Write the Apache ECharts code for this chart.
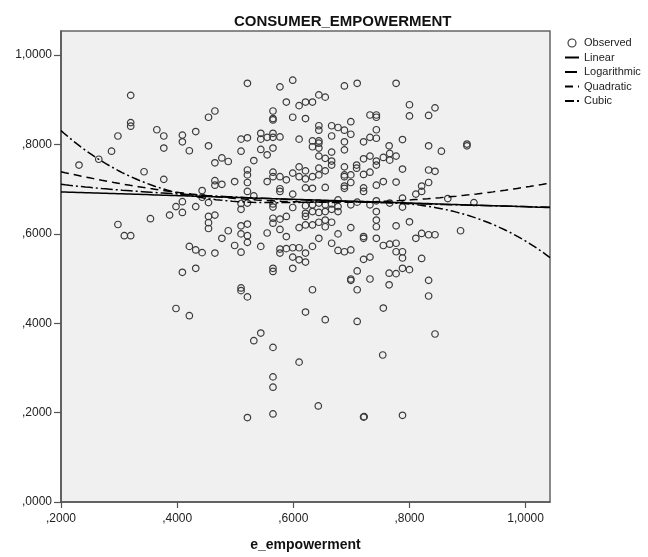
<!DOCTYPE html>
<html><head><meta charset="utf-8">
<script src="https://cdn.jsdelivr.net/npm/echarts@6/dist/echarts.min.js"></script>
<style>html,body{margin:0;padding:0;background:#fff}#c{width:648px;height:557px}</style>
</head><body><div id="c"></div>
<script>
// Observed points (e_empowerment, CONSUMER_EMPOWERMENT)
const obsX = [0.320,0.320,0.320,0.298,0.287,0.265,0.231,0.343,0.365,0.377,0.377,0.377,0.409,0.409,0.421,0.432,0.454,0.465,0.454,0.465,
0.477,0.488,0.465,0.465,0.477,0.443,0.443,0.454,0.409,0.398,0.432,0.409,0.387,0.354,0.298,0.309,0.320,0.454,0.454,0.454,
0.465,0.488,0.477,0.421,0.432,0.443,0.465,0.409,0.432,0.398,0.421,0.521,0.577,0.599,0.688,0.710,0.588,0.610,0.621,0.633,
0.644,0.655,0.565,0.565,0.565,0.599,0.621,0.644,0.644,0.666,0.677,0.688,0.699,0.699,0.666,0.732,0.743,0.743,0.743,0.732,
0.743,0.721,0.544,0.544,0.555,0.565,0.565,0.577,0.510,0.521,0.610,0.633,0.633,0.644,0.644,0.644,0.688,0.688,0.510,0.544,
0.555,0.565,0.644,0.666,0.655,0.666,0.666,0.532,0.721,0.732,0.743,0.743,0.755,0.765,0.709,0.709,0.688,0.688,0.688,0.521,
0.521,0.521,0.565,0.565,0.610,0.610,0.621,0.621,0.633,0.644,0.644,0.655,0.599,0.577,0.588,0.555,0.499,0.699,0.699,0.721,
0.732,0.743,0.755,0.577,0.577,0.621,0.633,0.655,0.688,0.688,0.721,0.721,0.521,0.532,0.599,0.510,0.510,0.521,0.565,0.565,
0.599,0.621,0.621,0.621,0.633,0.633,0.644,0.644,0.655,0.655,0.666,0.666,0.677,0.677,0.677,0.699,0.710,0.732,0.743,0.743,
0.766,0.788,0.788,0.588,0.577,0.565,0.565,0.521,0.510,0.510,0.521,0.521,0.499,0.510,0.544,0.555,0.577,0.588,0.610,0.633,
0.644,0.655,0.655,0.666,0.621,0.677,0.699,0.644,0.666,0.633,0.677,0.688,0.699,0.577,0.577,0.588,0.599,0.610,0.621,0.599,
0.610,0.621,0.565,0.565,0.599,0.721,0.721,0.743,0.743,0.743,0.755,0.732,0.721,0.710,0.699,0.699,0.732,0.710,0.765,0.765,
0.755,0.510,0.510,0.521,0.633,0.621,0.655,0.710,0.544,0.532,0.565,0.610,0.754,0.565,0.565,0.643,0.521,0.565,0.721,0.722,
0.788,0.777,0.800,0.800,0.844,0.833,0.788,0.766,0.766,0.777,0.833,0.855,0.899,0.899,0.788,0.833,0.844,0.777,0.833,0.821,
0.821,0.811,0.866,0.911,0.777,0.800,0.821,0.833,0.844,0.811,0.888,0.766,0.777,0.777,0.788,0.788,0.821,0.788,0.800,0.777,
0.833,0.833,0.844];
const obsY = [0.910,0.849,0.841,0.819,0.785,0.767,0.754,0.739,0.833,0.819,0.792,0.722,0.821,0.806,0.786,0.829,0.861,0.875,0.797,0.759,
0.770,0.762,0.719,0.709,0.711,0.697,0.682,0.670,0.672,0.661,0.661,0.648,0.642,0.634,0.621,0.596,0.596,0.639,0.625,0.612,
0.642,0.607,0.590,0.572,0.564,0.558,0.557,0.514,0.523,0.433,0.417,0.937,0.929,0.944,0.931,0.937,0.895,0.887,0.895,0.895,
0.911,0.906,0.875,0.858,0.855,0.861,0.858,0.842,0.832,0.842,0.838,0.832,0.851,0.823,0.819,0.866,0.866,0.861,0.833,0.816,
0.814,0.806,0.825,0.812,0.816,0.825,0.816,0.817,0.812,0.815,0.812,0.808,0.795,0.808,0.803,0.792,0.806,0.788,0.785,0.789,
0.777,0.792,0.774,0.783,0.769,0.763,0.754,0.764,0.768,0.774,0.763,0.754,0.771,0.797,0.754,0.747,0.750,0.732,0.728,0.743,
0.732,0.715,0.738,0.728,0.750,0.728,0.741,0.723,0.728,0.747,0.732,0.741,0.736,0.728,0.721,0.717,0.717,0.732,0.715,0.733,
0.738,0.709,0.717,0.701,0.695,0.703,0.702,0.704,0.707,0.702,0.703,0.695,0.695,0.685,0.689,0.668,0.655,0.669,0.667,0.660,
0.659,0.663,0.646,0.639,0.665,0.650,0.669,0.648,0.665,0.650,0.667,0.655,0.676,0.661,0.650,0.665,0.671,0.665,0.674,0.650,
0.669,0.680,0.660,0.639,0.633,0.635,0.624,0.622,0.618,0.600,0.596,0.581,0.574,0.559,0.572,0.602,0.610,0.594,0.614,0.620,
0.626,0.631,0.616,0.626,0.620,0.600,0.614,0.590,0.579,0.572,0.563,0.560,0.564,0.566,0.557,0.567,0.569,0.569,0.557,0.548,
0.542,0.537,0.523,0.516,0.523,0.594,0.590,0.631,0.616,0.590,0.574,0.548,0.543,0.517,0.499,0.496,0.499,0.475,0.512,0.486,
0.434,0.479,0.473,0.459,0.475,0.425,0.408,0.404,0.378,0.361,0.346,0.313,0.329,0.280,0.257,0.215,0.189,0.197,0.190,0.191,
0.194,0.937,0.889,0.864,0.882,0.865,0.811,0.780,0.765,0.774,0.797,0.785,0.801,0.797,0.745,0.743,0.740,0.716,0.715,0.707,
0.695,0.689,0.679,0.670,0.618,0.627,0.601,0.598,0.598,0.590,0.607,0.577,0.579,0.560,0.560,0.546,0.545,0.523,0.520,0.511,
0.496,0.461,0.376];

// Axis ticks
const xTicks = [0.2, 0.4, 0.6, 0.8, 1.0];
const yTicks = [0.0, 0.2, 0.4, 0.6, 0.8, 1.0];

// Fitted-model coefficients (ascending powers)
const linearCoef = [0.7023, -0.0416];
const logCoef = [0.661, -0.031];          // a + b*ln(x)
const quadCoef = [0.810, -0.417, 0.3116];
const cubicCoef = [1.1858, -2.4776, 3.9295, -2.0538];

const xMin = 0.2, xMax = 1.042, yMin = 0, yMax = 1.054;

function poly(c, x) { let s = 0; for (let i = c.length - 1; i >= 0; i--) s = s * x + c[i]; return s; }
function curve(f) {
  const out = [];
  const n = 120;
  for (let i = 0; i <= n; i++) { const x = xMin + (xMax - xMin) * i / n; out.push([x, f(x)]); }
  return out;
}
function fmt(v) {
  let s = Number(v).toFixed(4).replace('.', ',');
  if (s.startsWith('0,')) s = s.slice(1);
  return s;
}

const font = 'Liberation Sans, Arial, sans-serif';
const chart = echarts.init(document.getElementById('c'), null, { renderer: 'canvas' });
const lineBase = { type: 'line', symbol: 'none', showSymbol: false, silent: true, z: 3, itemStyle: { color: '#000' } };
const hideDot = { opacity: 0 };
chart.setOption({
  animation: false,
  backgroundColor: '#ffffff',
  title: {
    text: 'CONSUMER_EMPOWERMENT', left: 229, top: 9,
    textStyle: { fontFamily: font, fontSize: 15, fontWeight: 'bold', color: '#111' }
  },
  legend: {
    orient: 'vertical', left: 559, top: 32, itemWidth: 14, itemHeight: 8, itemGap: 2.5,
    textStyle: { fontFamily: font, fontSize: 11, color: '#222', lineHeight: 12 },
    data: [
      { name: 'Observed', itemStyle: { color: 'rgba(0,0,0,0)', borderColor: '#333', borderWidth: 1.1 } },
      { name: 'Linear', itemStyle: hideDot },
      { name: 'Logarithmic', itemStyle: hideDot },
      { name: 'Quadratic', itemStyle: hideDot },
      { name: 'Cubic', itemStyle: hideDot }
    ]
  },
  grid: { left: 61, right: 98, top: 31, bottom: 55, show: true, backgroundColor: '#f0f0f0', borderColor: '#666', borderWidth: 1.5 },
  xAxis: {
    type: 'value', min: xMin, max: xMax,
    name: 'e_empowerment', nameLocation: 'middle', nameGap: 36,
    nameTextStyle: { fontFamily: font, fontSize: 14, fontWeight: 'bold', color: '#111' },
    axisLine: { show: true, lineStyle: { color: '#555', width: 1.5 } },
    axisTick: { show: true, length: 6, lineStyle: { color: '#555', width: 1.2 }, customValues: xTicks },
    axisLabel: { fontFamily: font, fontSize: 12, color: '#222', margin: 11, customValues: xTicks, formatter: fmt },
    splitLine: { show: false }
  },
  yAxis: {
    type: 'value', min: yMin, max: yMax,
    axisLine: { show: true, lineStyle: { color: '#555', width: 1.5 } },
    axisTick: { show: true, length: 7, lineStyle: { color: '#555', width: 1.2 }, customValues: yTicks },
    axisLabel: { fontFamily: font, fontSize: 12, color: '#222', margin: 9, customValues: yTicks, formatter: fmt },
    splitLine: { show: false }
  },
  series: [
    {
      name: 'Observed', type: 'scatter', symbol: 'circle', symbolSize: 6.5, z: 2,
      itemStyle: { color: 'rgba(0,0,0,0)', borderColor: '#3a3a3a', borderWidth: 1.2, opacity: 1 },
      data: obsX.map((x, i) => [x, obsY[i]])
    },
    Object.assign({}, lineBase, { name: 'Linear', lineStyle: { color: '#000', width: 1.5, type: 'solid' },
      data: curve(x => poly(linearCoef, x)) }),
    Object.assign({}, lineBase, { name: 'Logarithmic', lineStyle: { color: '#000', width: 1.5, type: [12, 3, 2, 3] },
      data: curve(x => logCoef[0] + logCoef[1] * Math.log(x)) }),
    Object.assign({}, lineBase, { name: 'Quadratic', lineStyle: { color: '#000', width: 1.5, type: [8, 5] },
      data: curve(x => poly(quadCoef, x)) }),
    Object.assign({}, lineBase, { name: 'Cubic', lineStyle: { color: '#000', width: 1.5, type: [9, 3, 2, 3] },
      data: curve(x => poly(cubicCoef, x)) })
  ]
});
</script>
</body></html>
